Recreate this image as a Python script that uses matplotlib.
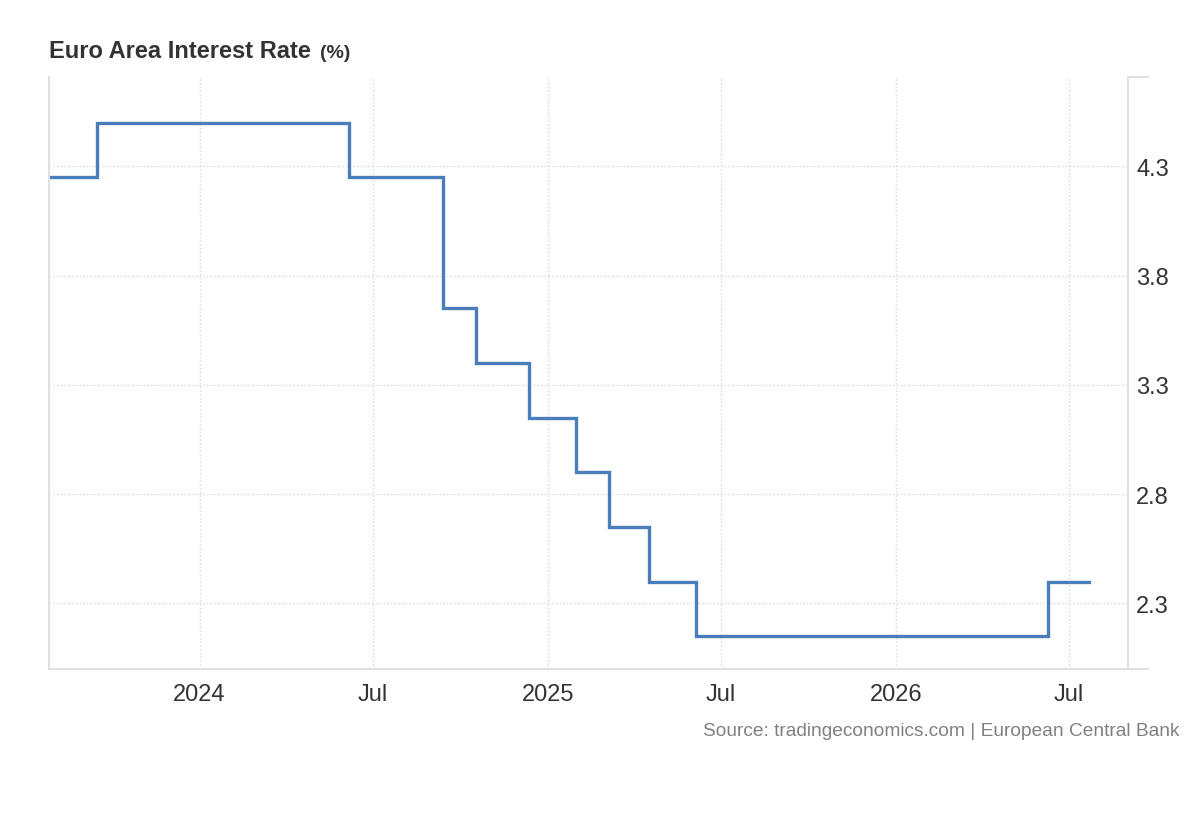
import matplotlib
matplotlib.use("Agg")
import matplotlib.pyplot as plt
import matplotlib.dates as mdates
import numpy as np
import pandas as pd

# ECB rate decisions (date the new rate applies) and the rate in %
dates = ["2023-07-27", "2023-09-15", "2024-06-06", "2024-09-12", "2024-10-17",
         "2024-12-12", "2025-01-30", "2025-03-06", "2025-04-17", "2025-06-05",
         "2026-06-09", "2026-07-22"]
rates = [4.25, 4.50, 4.25, 3.65, 3.40, 3.15, 2.90, 2.65, 2.40, 2.15, 2.40, 2.40]
yticks = [2.3, 2.8, 3.3, 3.8, 4.3]

plt.rcParams['font.family'] = ['Liberation Sans', 'DejaVu Sans']

x = pd.to_datetime(dates)
y = np.array(rates)

fig = plt.figure(figsize=(12, 8.2), dpi=100)
ax = fig.add_axes([0.0408, 0.1829, 0.8992, 0.7222])

ax.step(x, y, where="post", color="#4a7ebb", lw=2.4, solid_joinstyle="miter")

ax.set_xlim(pd.Timestamp("2023-07-27"), pd.Timestamp("2026-09-01"))
ax.set_ylim(2.0, 4.71)

ax.xaxis.set_major_locator(mdates.MonthLocator(bymonth=[1, 7]))
ax.xaxis.set_major_formatter(plt.FuncFormatter(
    lambda v, p: str(mdates.num2date(v).year) if mdates.num2date(v).month == 1 else "Jul"))
ax.set_yticks(yticks)
ax.yaxis.tick_right()
ax.yaxis.set_major_formatter(plt.FuncFormatter(lambda v, p: f"{v:.1f}"))

ax.tick_params(axis="x", length=0, pad=10, labelsize=17, labelcolor="#333333")
ax.tick_params(axis="y", length=0, pad=6, labelsize=17, labelcolor="#333333")

ax.grid(True, color="#dddddd", ls=(0, (1.2, 1.5)), lw=1.0)
ax.set_axisbelow(True)

for s in ["left", "bottom", "right"]:
    ax.spines[s].set_color("#e0e0e0")
    ax.spines[s].set_linewidth(1.5)
ax.spines["top"].set_visible(False)

# little end ticks on the right axis
for yy in (0, 1):
    ax.plot([1, 1.0185], [yy, yy], transform=ax.transAxes, color="#e0e0e0",
            lw=1.5, clip_on=False)

fig.text(0.0408, 0.937, "Euro Area Interest Rate", fontsize=17, fontweight="bold",
         color="#333333", va="center", ha="left")
fig.text(0.267, 0.935, "(%)", fontsize=14, fontweight="bold",
         color="#333333", va="center", ha="left")

fig.text(0.983, 0.108, "Source: tradingeconomics.com | European Central Bank",
         fontsize=13.8, color="#808080", ha="right", va="center")

fig.savefig("out.png", dpi=100)
